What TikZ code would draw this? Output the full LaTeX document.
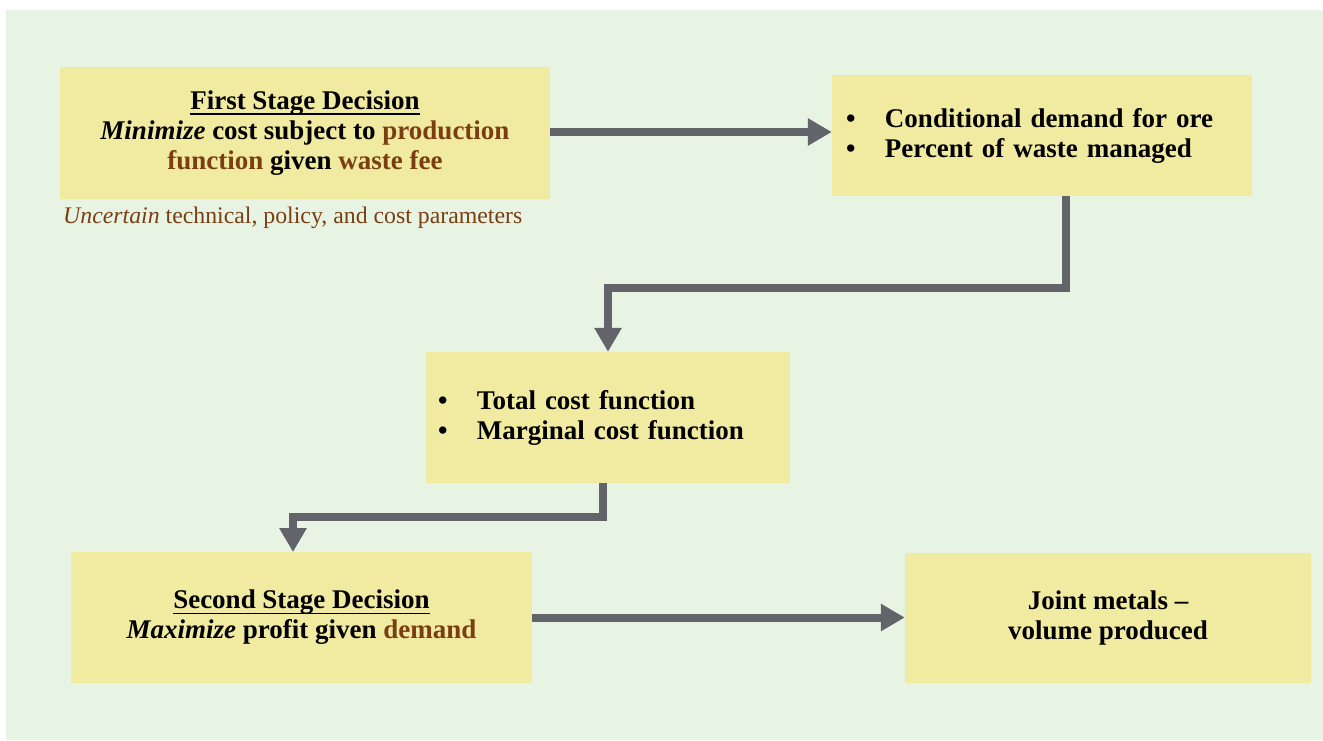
\documentclass[tikz,border=0pt]{standalone}
\usepackage{fontspec}
\setmainfont{Liberation Serif}
\usetikzlibrary{arrows.meta,calc}
\definecolor{bgc}{HTML}{E8F4E3}
\definecolor{boxc}{HTML}{F1EAA1}
\definecolor{arrc}{HTML}{636469}
\definecolor{brownc}{HTML}{7A3E12}
\newcommand{\bul}{\makebox[39pt][l]{\textbullet}}
\newcommand{\ulx}[1]{\leavevmode\setbox0\hbox{#1}\rlap{\rule[-5.5pt]{\wd0}{1.8pt}}\box0}
\begin{document}
\begin{tikzpicture}[x=1pt,y=-1pt,
  box/.style={fill=boxc, draw=none, inner sep=0pt, font=\fontsize{27}{30}\selectfont\bfseries},
  arr/.style={draw=arrc, line width=8pt, -{Triangle[width=26pt,length=24pt]}},
  caption/.style={text=brownc, inner sep=0pt, font=\fontsize{23.8}{26}\selectfont},
]
\useasboundingbox (0,0) rectangle (1323,740);
\fill[white] (0,0) rectangle (1323,740);
\fill[bgc] (6,10) rectangle (1323,740);

\node[box, minimum width=490pt, minimum height=132pt, align=center] (b1) at (305,133)
  {\ulx{First Stage Decision}\\ \textit{Minimize} cost subject to \textcolor{brownc}{production}\\ \textcolor{brownc}{function} given \textcolor{brownc}{waste fee}};
\node[caption, anchor=west] (cap) at (63,218) {\textit{Uncertain} technical, policy, and cost parameters};

\node[box, minimum width=420pt, minimum height=121pt, inner xsep=14pt, text width=392pt, align=left] (b2) at (1042,135.5)
  {\bul Conditional demand for ore\\ \bul Percent of waste managed};

\node[box, minimum width=364pt, minimum height=131pt, inner xsep=12pt, text width=340pt, align=left] (b3) at (608,417.5)
  {\bul Total cost function\\ \bul Marginal cost function};

\node[box, minimum width=461pt, minimum height=131pt, align=center] (b4) at (301.5,617.5)
  {\ulx{Second Stage Decision}\\ \textit{Maximize} profit given \textcolor{brownc}{demand}};

\node[box, minimum width=406pt, minimum height=130pt, align=center] (b5) at (1108,618)
  {Joint metals –\\ volume produced};

\coordinate (k2) at (1066,288);
\coordinate (k3) at (603,517);
\coordinate (t4) at (293,552);

\draw[arr] (b1.east |- 0,132) -- (b2.west |- 0,132);
\draw[arr] (b2.south -| k2) -- (k2) -| (b3.north);
\draw[arr] (b3.south -| k3) -- (k3) -| (t4);
\draw[arr] (b4.east) -- (b4.east -| b5.west);
\end{tikzpicture}
\end{document}
